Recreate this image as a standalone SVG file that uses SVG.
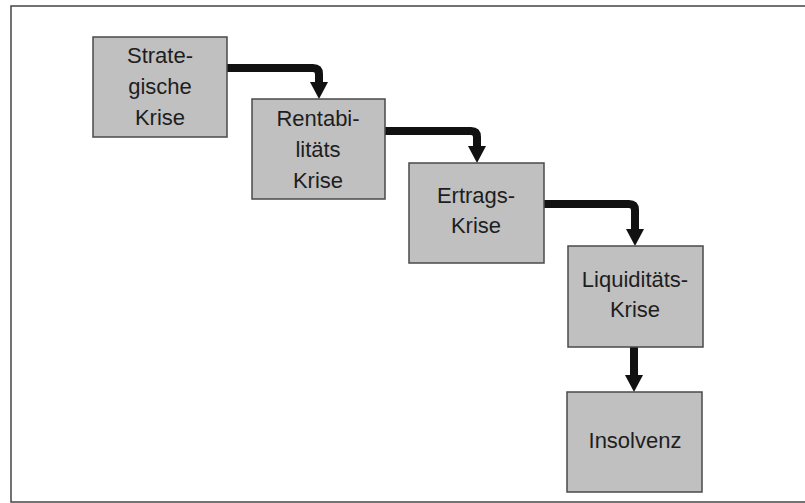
<svg xmlns="http://www.w3.org/2000/svg" width="805" height="503" viewBox="0 0 805 503">
<style>
.box{fill:#c0c0c0;stroke:#4a4a4a;stroke-width:1.5}
.lbl{font-family:"Liberation Sans",Arial,sans-serif;font-size:22px;fill:#1e1e1e;text-anchor:middle}
.conn{fill:none;stroke:#111;stroke-width:8;stroke-linejoin:round}
</style>
<defs>
<marker id="ah" markerUnits="userSpaceOnUse" viewBox="0 0 17 18" refX="0" refY="9" markerWidth="17" markerHeight="18" orient="auto">
<path d="M0,0 L17,9 L0,18 Z" fill="#111"/>
</marker>
</defs>
<rect x="11" y="6" width="800" height="496" fill="#fff" stroke="#444" stroke-width="1.5"/>
<g id="connectors">
<path class="conn" d="M222,68 H313 Q319,68 319,74 V82" marker-end="url(#ah)"/>
<path class="conn" d="M381,131 H471 Q477,131 477,137 V146" marker-end="url(#ah)"/>
<path class="conn" d="M540,204 H629 Q635,204 635,210 V229" marker-end="url(#ah)"/>
<path class="conn" d="M634,347 V375" marker-end="url(#ah)"/>
</g>
<g id="n1"><rect class="box" x="93" y="37" width="134" height="100"/>
<text class="lbl" x="160" y="63">Strate-</text><text class="lbl" x="160" y="94">gische</text><text class="lbl" x="160" y="125">Krise</text></g>
<g id="n2"><rect class="box" x="252" y="99" width="133" height="100"/>
<text class="lbl" x="318" y="126">Rentabi-</text><text class="lbl" x="318" y="157">litäts</text><text class="lbl" x="318" y="188">Krise</text></g>
<g id="n3"><rect class="box" x="409" y="163" width="135" height="100"/>
<text class="lbl" x="476" y="203">Ertrags-</text><text class="lbl" x="476" y="233">Krise</text></g>
<g id="n4"><rect class="box" x="568" y="246" width="135" height="101"/>
<text class="lbl" x="635" y="287">Liquiditäts-</text><text class="lbl" x="635" y="317">Krise</text></g>
<g id="n5"><rect class="box" x="567" y="392" width="135" height="100"/>
<text class="lbl" x="635" y="448">Insolvenz</text></g>
</svg>
